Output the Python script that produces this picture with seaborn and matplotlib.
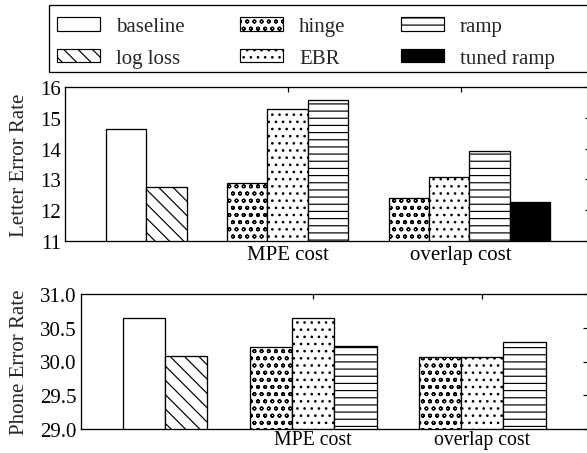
import pandas as pd
import matplotlib
matplotlib.use('Agg')
import matplotlib.pyplot as plt
import seaborn as sns
from matplotlib.patches import Patch, Rectangle

# ---- data ----
methods = ['baseline', 'log loss', 'hinge', 'EBR', 'ramp', 'tuned ramp']

letter_methods = ['baseline', 'log loss', 'hinge', 'EBR', 'ramp', 'hinge', 'EBR', 'ramp', 'tuned ramp']
letter_pos = [1.5, 2.5, 4.5, 5.5, 6.5, 8.5, 9.5, 10.5, 11.5]
letter_err = [14.63, 12.74, 12.89, 15.28, 15.60, 12.39, 13.08, 13.93, 12.27]

phone_methods = ['baseline', 'log loss', 'hinge', 'EBR', 'ramp', 'hinge', 'EBR', 'ramp']
phone_pos = [1.5, 2.5, 4.5, 5.5, 6.5, 8.5, 9.5, 10.5]
phone_err = [30.65, 30.08, 30.22, 30.65, 30.23, 30.06, 30.06, 30.29]

group_labels = ['MPE cost', 'overlap cost']
letter_group_ticks = [5.5, 9.8]
phone_group_ticks = [5.5, 9.5]

hatches = {'baseline': '', 'log loss': '\\\\', 'hinge': 'oo', 'EBR': '..',
           'ramp': '--', 'tuned ramp': ''}
faces = {m: 'white' for m in methods}
faces['tuned ramp'] = 'black'

# ---- style ----
DPI = 86
W, H = 587, 454
sns.set_style('white')
plt.rcParams['font.family'] = ['Liberation Serif', 'DejaVu Serif']
plt.rcParams['hatch.linewidth'] = 1.0
plt.rcParams['axes.linewidth'] = 1.1
FS = 17.5

fig = plt.figure(figsize=(W / DPI, H / DPI), dpi=DPI)


def px_axes(left, top, right, bottom):
    return fig.add_axes([left / W, 1 - bottom / H, (right - left) / W, (bottom - top) / H])


def draw_panel(ax, pos, vals, meths, ylim, yticks, fmt, xlim, gticks, ylabel, label_x,
               xfs=FS, xpad=3.5):
    df = pd.DataFrame({'pos': pos, 'err': vals, 'method': meths})
    sns.barplot(data=df, x='pos', y='err', native_scale=True, width=1.0,
                errorbar=None, color='white', edgecolor='black', linewidth=1.1,
                saturation=1, ax=ax)
    for patch in ax.patches:
        cx = patch.get_x() + patch.get_width() / 2
        i = min(range(len(pos)), key=lambda k: abs(pos[k] - cx))
        m = meths[i]
        patch.set_facecolor(faces[m])
        patch.set_hatch(hatches[m])
        patch.set_edgecolor('black')
    ax.set_xlim(*xlim)
    ax.set_ylim(*ylim)
    ax.set_yticks(yticks)
    ax.set_yticklabels([fmt % t for t in yticks], fontsize=FS)
    ax.set_xticks(gticks)
    ax.set_xticklabels(group_labels, fontsize=xfs)
    ax.set_xlabel('')
    ax.set_ylabel(ylabel, fontsize=FS)
    ax.yaxis.set_label_coords(label_x, 0.5)
    ax.tick_params(direction='in', top=True, right=True, length=4.2, width=1.0,
                   colors='black')
    ax.tick_params(axis='x', pad=xpad)
    ax.tick_params(axis='y', pad=3.5)
    for s in ax.spines.values():
        s.set_color('black')


# top panel: letter error rate
ax1 = px_axes(65.3, 88.3, 65.3 + 13 * 40.4, 241.7)
draw_panel(ax1, letter_pos, letter_err, letter_methods, (11, 16), [11, 12, 13, 14, 15, 16],
           '%d', (0, 13), letter_group_ticks, 'Letter Error Rate', (29 - 65.3) / (13 * 40.4))

# bottom panel: phone error rate
ax2 = px_axes(80.5, 295.0, 80.5 + 12 * 42.3, 430.0)
draw_panel(ax2, phone_pos, phone_err, phone_methods, (29, 31), [29.0, 29.5, 30.0, 30.5, 31.0],
           '%.1f', (0, 12), phone_group_ticks, 'Phone Error Rate', (29 - 80.5) / (12 * 42.3),
           xfs=16.5, xpad=1.0)

# legend in a box across the top
order = ['baseline', 'log loss', 'hinge', 'EBR', 'ramp', 'tuned ramp']
handles = [Patch(facecolor=faces[m], edgecolor='black', hatch=hatches[m], linewidth=1.0)
           for m in order]
leg = fig.legend(handles, order, ncol=3, loc='upper left',
                 bbox_to_anchor=(57.3 / W, 1 - 18 / H), borderaxespad=0, borderpad=0,
                 frameon=False, fontsize=FS, handlelength=2.05, handleheight=0.62,
                 handletextpad=0.77, columnspacing=2.65, labelspacing=0.6)
fig.add_artist(Rectangle((49.3 / W, 1 - 72.7 / H), (W + 5 - 49.3) / W, (72.7 - 6) / H,
                         transform=fig.transFigure, fill=False, edgecolor='black',
                         linewidth=1.1))

fig.savefig('out.png', dpi=DPI)
